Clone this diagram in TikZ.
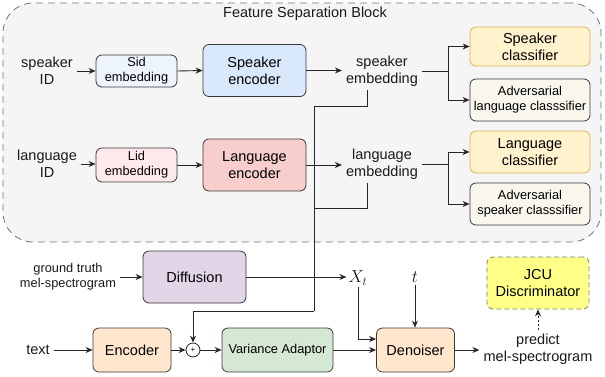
\documentclass[tikz,border=0pt]{standalone}
\usepackage{fontspec}
\setmainfont{Liberation Sans}
\usetikzlibrary{arrows.meta}
\definecolor{blockc}{HTML}{F5F5F5}
\definecolor{sidc}{HTML}{EEF4FD}
\definecolor{spkc}{HTML}{DAE8FC}
\definecolor{lidc}{HTML}{FDE9E9}
\definecolor{lanc}{HTML}{F8CECC}
\definecolor{clsc}{HTML}{FFF2CC}
\definecolor{clsb}{HTML}{D6B656}
\definecolor{advc}{HTML}{F9F7ED}
\definecolor{difc}{HTML}{E1D5E7}
\definecolor{encc}{HTML}{FFE6CC}
\definecolor{vac}{HTML}{D5E8D4}
\definecolor{jcuc}{HTML}{FFFF88}
\newcommand{\fbig}{\fontsize{14.5}{17}\selectfont}
\newcommand{\fsml}{\fontsize{12.8}{15}\selectfont}
\newcommand{\fmath}{\fontsize{17.5}{20}\selectfont}
\begin{document}
\begin{tikzpicture}[x=1pt,y=-1pt,
  box/.style={draw=black!78, rounded corners=6pt, align=center, inner sep=1pt, line width=0.8pt},
  lbl/.style={align=center, inner sep=4pt, text=black!90},
  arr/.style={-{Stealth[length=7pt,width=6pt]}, line width=0.9pt, draw=black!85},
  ln/.style={line width=0.9pt, draw=black!85}]
\useasboundingbox (0,0) rectangle (605,376);

% feature separation block
\node[draw=black!55, dashed, dash pattern=on 7pt off 5pt, fill=blockc, rounded corners=30pt,
      minimum width=598pt, minimum height=239pt, line width=0.8pt] (block) at (302,122.5) {};
\node[lbl, font=\fbig] (title) at (305,14) {Feature Separation Block};

% speaker row
\node[lbl, font=\fbig] (spkID) at (47,71) {speaker\\ID};
\node[box, fill=sidc, minimum width=81pt, minimum height=32pt, font=\fsml] (sid) at (136.5,71) {Sid\\embedding};
\node[box, fill=spkc, minimum width=103pt, minimum height=52pt, font=\fbig] (spkenc) at (254.5,70.5) {Speaker\\encoder};
\node[lbl, font=\fbig] (spkemb) at (382,71) {speaker\\embedding};
\node[box, draw=clsb, fill=clsc, minimum width=120pt, minimum height=39pt, font=\fbig] (spkcls) at (530,46.5) {Speaker\\classifier};
\node[box, fill=advc, minimum width=120pt, minimum height=42pt, font=\fsml] (advlan) at (530,100) {Adversarial\\language classsifier};

% language row
\node[lbl, font=\fbig] (lanID) at (47,164) {language\\ID};
\node[box, fill=lidc, minimum width=81pt, minimum height=34pt, font=\fsml] (lid) at (136.5,165) {Lid\\embedding};
\node[box, fill=lanc, minimum width=103pt, minimum height=52pt, font=\fbig] (lanenc) at (254.5,165) {Language\\encoder};
\node[lbl, font=\fbig] (lanemb) at (382,164) {language\\embedding};
\node[box, draw=clsb, fill=clsc, minimum width=120pt, minimum height=42pt, font=\fbig] (lancls) at (530,152) {Language\\classifier};
\node[box, fill=advc, minimum width=120pt, minimum height=42pt, font=\fsml] (advspk) at (530,204) {Adversarial\\speaker classsifier};

% lower part
\node[lbl, font=\fsml] (gt) at (68,277) {ground truth\\mel-spectrogram};
\node[box, fill=difc, minimum width=103pt, minimum height=52pt, font=\fbig] (diff) at (194.5,277) {Diffusion};
\node[lbl, font=\fmath, inner sep=2pt] (xt) at (358,278) {$X_t$};
\node[lbl, font=\fmath, inner sep=2pt] (t) at (415,277) {$t$};
\node[box, draw=black!50, dashed, dash pattern=on 5pt off 3pt, fill=jcuc, minimum width=102pt, minimum height=52pt, font=\fbig] (jcu) at (538,283) {JCU\\Discriminator};

\node[lbl, font=\fbig] (text) at (38,350) {text};
\node[box, fill=encc, minimum width=78pt, minimum height=44pt, font=\fbig] (enc) at (132,350) {Encoder};
\node[circle, draw=black!85, fill=white, line width=0.8pt, minimum size=14pt, inner sep=0pt, font=\footnotesize] (plus) at (193,350) {+};
\node[box, fill=vac, minimum width=111pt, minimum height=44pt, font=\fsml] (va) at (277.5,350) {Variance Adaptor};
\node[box, fill=encc, minimum width=78pt, minimum height=44pt, font=\fbig] (den) at (415.5,350) {Denoiser};
\node[lbl, font=\fbig] (pred) at (538,349) {predict\\mel-spectrogram};

% connectors speaker
\draw[arr] (spkID.east) -- (spkID.east -| sid.west);
\draw[arr] (sid.east) -- (spkenc.west);
\draw[arr] (spkenc.east) -- (spkenc.east -| spkemb.west);
\coordinate (b1) at (448,71);
\draw[ln] (spkemb.east |- b1) -- (b1);
\draw[arr] (b1) |- (spkcls.west);
\draw[arr] (b1) |- (advlan.west);

% connectors language
\draw[arr] (lanID.east) -- (lanID.east -| lid.west);
\draw[arr] (lid.east) -- (lanenc.west);
\draw[arr] (lanenc.east) -- (lanenc.east -| lanemb.west);
\coordinate (b2) at (448,164);
\draw[ln] (lanemb.east |- b2) -- (b2);
\draw[arr] (b2) |- (lancls.west);
\draw[arr] (b2) |- (advspk.west);

% embeddings to adder
\coordinate (j1) at (314,106);
\coordinate (j2) at (314,208);
\coordinate (j3) at (314,311);
\draw[ln] ([xshift=-15pt]spkemb.south) |- (j1);
\draw[ln] ([xshift=-15pt]lanemb.south) |- (j2);
\draw[ln] (j1) -- (j3);
\draw[arr] (j3) -| (plus.north);

% lower connectors
\draw[arr] (gt.east |- diff.west) -- (diff.west);
\draw[arr] (diff.east) -- (diff.east -| xt.west);
\draw[arr] (xt.south) |- ([yshift=11pt]den.west);
\draw[arr] (t.south) -- (t.south |- den.north);
\draw[arr] (text.east) -- (enc.west);
\draw[arr] (enc.east) -- (plus.west);
\draw[arr] (plus.east) -- (va.west);
\draw[arr] (va.east) -- (den.west);
\draw[arr] (den.east) -- (den.east -| pred.west);
\draw[arr, dash pattern=on 2pt off 2pt] (pred.north) -- (jcu.south);
\end{tikzpicture}
\end{document}
